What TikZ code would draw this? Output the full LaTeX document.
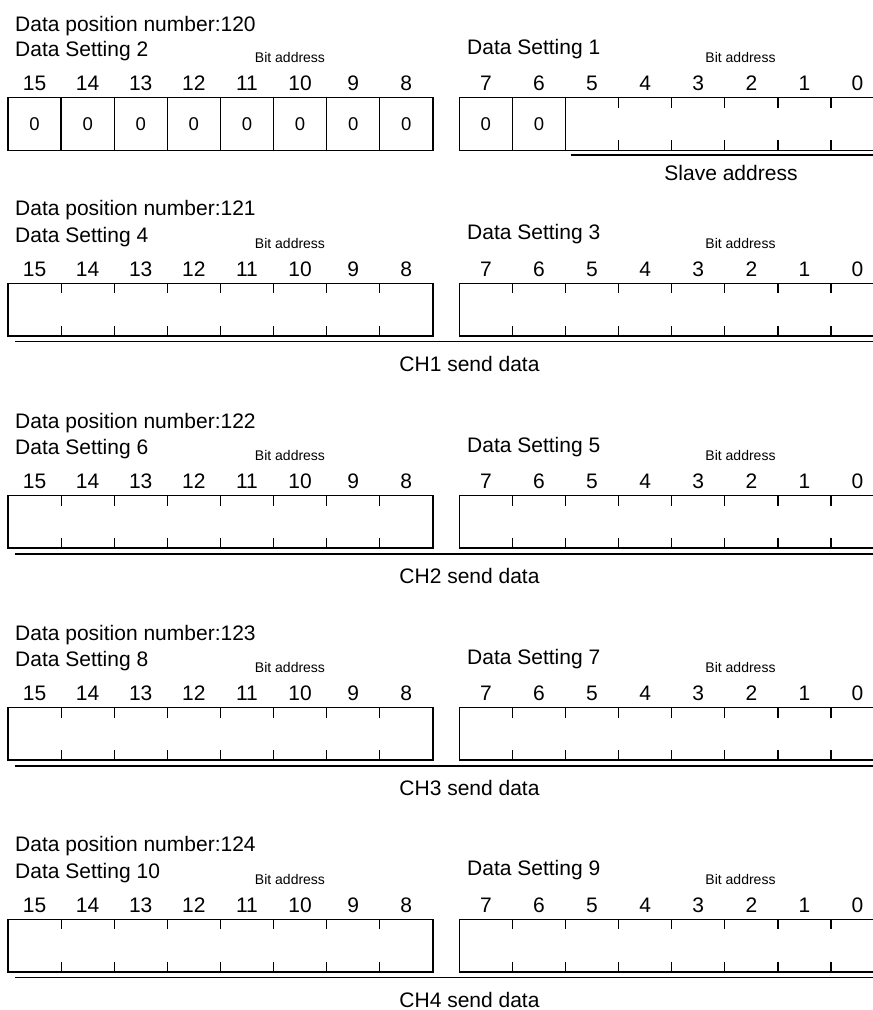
\documentclass[tikz,border=0pt]{standalone}
\usepackage{fontspec}
\setmainfont{Liberation Sans}
\newcommand{\bigtxt}{\fontsize{21}{24}\selectfont}
\newcommand{\smalltxt}{\fontsize{14}{16}\selectfont}
\newcommand{\celltxt}{\fontsize{18.5}{21}\selectfont}
\tikzset{
  boxline/.style={draw=black, line width=1.4pt},
  tickline/.style={draw=black, line width=1.2pt},
  sendline/.style={draw=black, line width=1.6pt},
  heading/.style={anchor=base west, inner sep=0pt, font=\bigtxt},
  bitnum/.style={inner sep=0pt, font=\bigtxt},
  bitlabel/.style={inner sep=0pt, font=\smalltxt},
  cellval/.style={inner sep=0pt, font=\celltxt},
  sendlabel/.style={inner sep=0pt, font=\bigtxt},
}
\begin{document}
\begin{tikzpicture}[x=1pt,y=-1pt]
    % Canvas: the right byte runs off the right edge, as in the original
    \useasboundingbox (0,0) rectangle (873,1010);
    \clip (0,0) rectangle (873,1010);
    \fill[white] (0,0) rectangle (873,1010);

    % Data position number 120: fixed zero bits plus the slave address
    \node[heading] (title120) at (15,31.5) {Data position number:120};
    \node[heading] (setL120) at (15,56.7) {Data Setting 2};
    \node[heading] (setR120) at (467,54.2) {Data Setting 1};
    \node[bitlabel] (addrL120) at (290,57.7) {Bit address};
    \node[bitlabel] (addrR120) at (740.5,57.7) {Bit address};
    \foreach \i in {0,...,7} {
        \pgfmathtruncatemacro{\hi}{15-\i}
        \pgfmathtruncatemacro{\lo}{7-\i}
        \node[bitnum] (b120n\hi) at (34.55+\i*53.1,83.4) {\hi};
        \node[bitnum] (b120n\lo) at (485.85+\i*53.1,83.4) {\lo};
        \node[cellval] (b120v\hi) at (34.55+\i*53.1,124) {0};
    }
    \node[cellval] (b120v7) at (485.85,124) {0};
    \node[cellval] (b120v6) at (538.95,124) {0};
    \draw[boxline] (8,97.7) rectangle (432.8,150.3);
    \draw[boxline] (459.3,97.7) rectangle (884.1,150.3);
    \foreach \i in {1,...,7}
        \draw[boxline] (8+\i*53.1,97.7) -- (8+\i*53.1,150.3);
    \foreach \i in {1,2}
        \draw[boxline] (459.3+\i*53.1,97.7) -- (459.3+\i*53.1,150.3);
    \foreach \i in {3,...,7} {
        \draw[tickline] (459.3+\i*53.1,97.7) -- ++(0,10);
        \draw[tickline] (459.3+\i*53.1,150.3) -- ++(0,-10);
    }
    % Slave address bracket line
    \coordinate (slaveA) at (570.7,155);
    \coordinate (slaveB) at (880,155);
    \draw[sendline] (slaveA) -- (slaveB);
    \node[sendlabel] (slave) at (731,173.3) {Slave address};

    % Data position numbers 121-124: CH1-CH4 send data
    \foreach \t/\num/\dl/\dr/\ch in {283.3/121/4/3/1, 495.5/122/6/5/2,
                                     707.5/123/8/7/3, 919.3/124/10/9/4} {
        \node[heading] (title\num) at (15,\t-67.5) {Data position number:\num};
        \node[heading] (setL\num) at (15,\t-41) {Data Setting \dl};
        \node[heading] (setR\num) at (467,\t-43.5) {Data Setting \dr};
        \node[bitlabel] (addrL\num) at (290,\t-40) {Bit address};
        \node[bitlabel] (addrR\num) at (740.5,\t-40) {Bit address};
        \foreach \i in {0,...,7} {
            \pgfmathtruncatemacro{\hi}{15-\i}
            \pgfmathtruncatemacro{\lo}{7-\i}
            \node[bitnum] (b\num n\hi) at (34.55+\i*53.1,\t-14.3) {\hi};
            \node[bitnum] (b\num n\lo) at (485.85+\i*53.1,\t-14.3) {\lo};
        }
        \draw[boxline] (8,\t) rectangle (432.8,\t+52.6);
        \draw[boxline] (459.3,\t) rectangle (884.1,\t+52.6);
        \foreach \i in {1,...,7} {
            \draw[tickline] (8+\i*53.1,\t) -- ++(0,10);
            \draw[tickline] (8+\i*53.1,\t+52.6) -- ++(0,-10);
            \draw[tickline] (459.3+\i*53.1,\t) -- ++(0,10);
            \draw[tickline] (459.3+\i*53.1,\t+52.6) -- ++(0,-10);
        }
        \coordinate (sendA\num) at (15,\t+58.3);
        \coordinate (sendB\num) at (880,\t+58.3);
        \draw[sendline] (sendA\num) -- (sendB\num);
        \node[sendlabel] (send\num) at (469.5,\t+80.6) {CH\ch\ send data};
    }
\end{tikzpicture}
\end{document}
